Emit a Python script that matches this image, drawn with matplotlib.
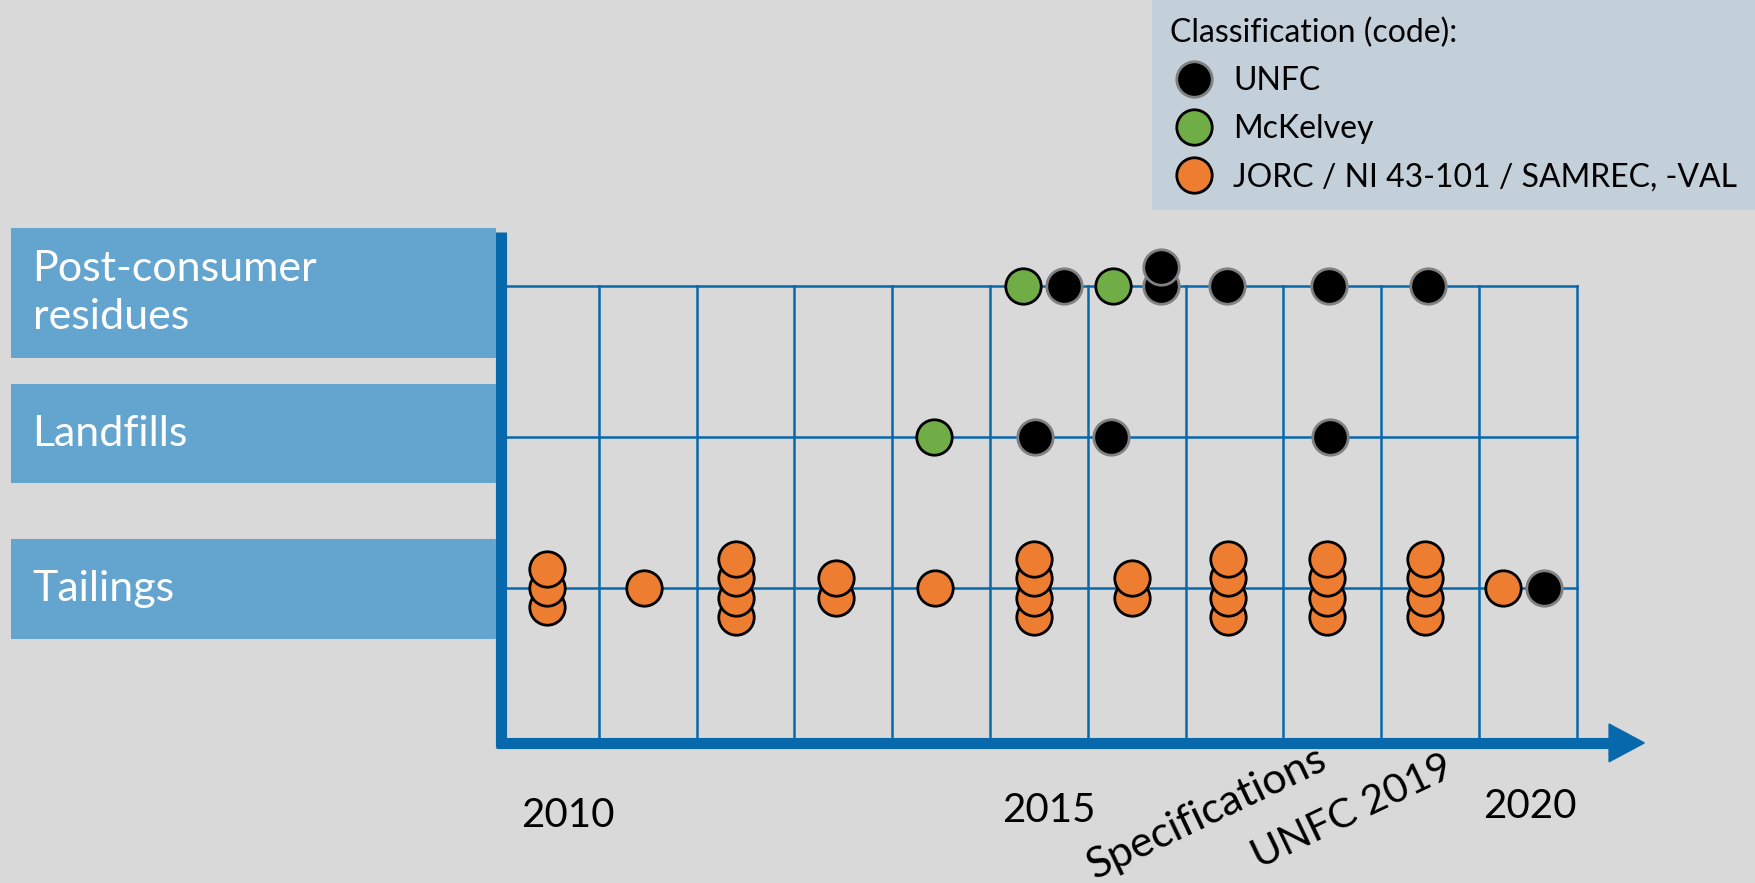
import numpy as np
import matplotlib
matplotlib.use('Agg')
import matplotlib.pyplot as plt
from matplotlib.patches import Rectangle, Polygon

plt.rcParams['font.family'] = ['Lato', 'DejaVu Sans']

# rows of the chart (bottom to top)
rows = ['Tailings', 'Landfills', 'Post-consumer\nresidues']
codes = ['UNFC', 'McKelvey', 'JORC / NI 43-101 / SAMREC, -VAL']
code_colors = {'UNFC': '#000000', 'McKelvey': '#70ad47',
               'JORC / NI 43-101 / SAMREC, -VAL': '#ed7d31'}
code_edges = {'UNFC': '#808080', 'McKelvey': '#000000',
              'JORC / NI 43-101 / SAMREC, -VAL': '#000000'}

J = 'JORC / NI 43-101 / SAMREC, -VAL'
# publications per row: (position on the time axis, classification code)
tailings_years = ([2009.97] * 3 + [2010.96] + [2011.90] * 4 + [2012.93] * 2 + [2013.94]
                  + [2014.95] * 4 + [2015.95] * 2 + [2016.93] * 4 + [2017.95] * 4
                  + [2018.95] * 4 + [2019.75, 2020.16])
tailings_codes = [J] * 30 + ['UNFC']

landfill_years = [2013.93, 2014.96, 2015.74, 2017.98]
landfill_codes = ['McKelvey', 'UNFC', 'UNFC', 'UNFC']

post_years = [2014.84, 2015.26, 2015.76, 2016.25, 2016.25, 2016.92, 2017.97, 2018.98]
post_codes = ['McKelvey', 'UNFC', 'McKelvey', 'UNFC', 'UNFC', 'UNFC', 'UNFC', 'UNFC']

year_ticks = [2010, 2015, 2020]
first_year, last_year = 2010, 2020

row_data = [(tailings_years, tailings_codes, 'center'),
            (landfill_years, landfill_codes, 'up'),
            (post_years, post_codes, 'up')]

W, H = 1755, 883
bg = '#d9d9d9'
blue = '#0868ac'
box_blue = '#64a5d0'

fig = plt.figure(figsize=(W / 100, H / 100), dpi=100, facecolor=bg)
ax = fig.add_axes([0, 0, 1, 1])
ax.set_facecolor(bg)
ax.axis('off')

# pixel layout of the original -> data limits
X0, XS = 549.9, 97.8   # pixel of 2010, pixels per year
Y0, YS = 588.0, 151.0  # pixel of Tailings row, pixels per row
ax.set_xlim(2010 - X0 / XS, 2010 + (W - X0) / XS)
ax.set_ylim((Y0 - H) / YS, Y0 / YS)

left = first_year - 0.5
right = last_year + 0.5
y_axis = -1.026
top_row = len(rows) - 1

# grid
for k in range(len(rows)):
    ax.plot([left, right], [k, k], color=blue, lw=1.8, zorder=1)
for yr in np.arange(first_year + 0.5, last_year + 1):
    ax.plot([yr, yr], [top_row, y_axis], color=blue, lw=1.8, zorder=1)

# axes: thick vertical line and arrow
ax.plot([left, left], [2.358, y_axis - 0.03], color=blue, lw=8, zorder=2, solid_capstyle='butt')
ax.plot([left - 0.05, 2020.85], [y_axis, y_axis], color=blue, lw=8, zorder=2, solid_capstyle='butt')
ax.add_patch(Polygon([[2020.83, y_axis + 0.125], [2021.19, y_axis], [2020.83, y_axis - 0.125]],
                     closed=True, color=blue, zorder=2))

# row label boxes
box_centers = [-0.006, 1.023, 1.954]
box_heights = [0.66, 0.66, 0.86]
for name, yc, h in zip(rows, box_centers, box_heights):
    ax.add_patch(Rectangle((2004.49, yc - h / 2), left - 0.05 - 2004.49, h,
                           facecolor=box_blue, edgecolor='none', zorder=2))
    ax.text(2004.71, yc, name, color='white', fontsize=31, ha='left', va='center',
            linespacing=1.35, zorder=3)

# points: stack publications that share a position
step = 0.129
pts = {c: ([], []) for c in codes}
for r, (years, cds, mode) in enumerate(row_data):
    seen = {}
    for yr in years:
        seen[yr] = seen.get(yr, 0) + 1
    count = {}
    for yr, c in zip(years, cds):
        i = count.get(yr, 0)
        count[yr] = i + 1
        n = seen[yr]
        off = (i - (n - 1) / 2) * step if mode == 'center' else i * step
        pts[c][0].append(yr)
        pts[c][1].append(r + off)

for c in codes:
    xs, ys = pts[c]
    order = np.argsort(ys, kind='stable')
    ax.plot(np.array(xs)[order], np.array(ys)[order], 'o', ls='none', ms=25.5,
            mfc=code_colors[c], mec=code_edges[c], mew=2, label=c, zorder=5)

# year labels (slightly staggered like the original)
label_dx = [0.18, 0.1, 0.02]
label_y = [-1.58, -1.55, -1.52]
for yr, dx, ly in zip(year_ticks, label_dx, label_y):
    ax.text(yr + dx, ly, str(yr), fontsize=29, ha='center', va='baseline', color='black')

ax.text(2015.57, -1.93, 'Specifications', fontsize=31, rotation=25.5, rotation_mode='anchor',
        ha='left', va='baseline')
ax.text(2017.25, -1.86, 'UNFC 2019', fontsize=29.5, rotation=25.5, rotation_mode='anchor',
        ha='left', va='baseline')

leg = ax.legend(loc='upper right', bbox_to_anchor=(1, 1), bbox_transform=fig.transFigure,
                borderaxespad=0, frameon=True, fancybox=False, facecolor='#c3cfd9',
                edgecolor='none', framealpha=1, title='Classification (code):',
                alignment='left', fontsize=23, title_fontsize=23, numpoints=1,
                handlelength=1.54, handletextpad=0.46, labelspacing=0.57, borderpad=0.55)
leg.get_frame().set_linewidth(0)

fig.savefig('out.png', dpi=100, facecolor=bg)
